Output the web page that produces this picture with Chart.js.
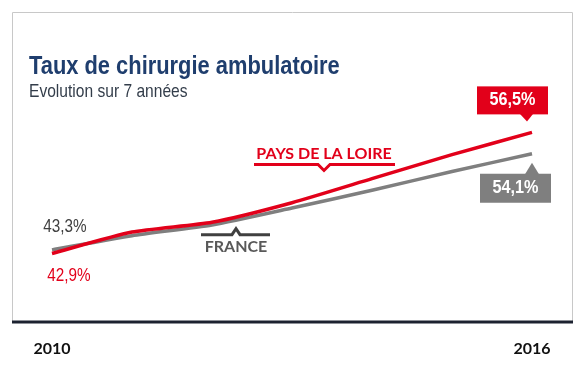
<!DOCTYPE html>
<html>
<head>
<meta charset="utf-8">
<script src="https://cdn.jsdelivr.net/npm/chart.js@4"></script>
<style>
  html, body { margin: 0; padding: 0; background: #fff; }
  #wrap { width: 587px; height: 366px; }
</style>
</head>
<body>
<div id="wrap"><canvas id="lines" width="587" height="366"></canvas></div>
<script>
// annees et taux (%)
const years = ['2010', '2011', '2012', '2013', '2014', '2015', '2016'];
const paysDeLaLoire = [42.9, 45.3, 46.4, 48.6, 51.3, 54.0, 56.5];
const france = [43.3, 44.9, 46.1, 48.0, 50.0, 52.1, 54.1];
const shownYears = ['2010', '2016'];

const RED = '#e2001a';
const GREY = '#7f7f7f';
const NARROW = '"Liberation Sans Narrow", "Liberation Sans", Arial, sans-serif';
const BOLDFONT = 'Lato, "Open Sans", sans-serif';

function fmt(v) {
    return v.toFixed(1).replace('.', ',') + '%';
}

// texte "condense" : pas de police etroite installee, on resserre a la main
function narrowText(ctx, text, x, y, sx) {
    ctx.save();
    ctx.translate(x, y);
    ctx.scale(sx, 1);
    ctx.fillText(text, 0, 0);
    ctx.restore();
}

// cadre, titres et etiquettes
const decor = {
    id: 'decor',
    beforeDraw(chart) {
        const ctx = chart.ctx;
        const area = chart.chartArea;
        ctx.save();
        ctx.strokeStyle = '#c8c8c8';
        ctx.lineWidth = 1;
        ctx.beginPath();
        ctx.moveTo(12.5, area.bottom);
        ctx.lineTo(12.5, 12.5);
        ctx.lineTo(572.5, 12.5);
        ctx.lineTo(572.5, area.bottom);
        ctx.stroke();

        ctx.textBaseline = 'alphabetic';
        ctx.fillStyle = '#1f3e6e';
        ctx.font = 'bold 25px ' + NARROW;
        narrowText(ctx, 'Taux de chirurgie ambulatoire', 29, 74, 0.875);
        ctx.fillStyle = '#333d4a';
        ctx.font = '19px ' + NARROW;
        narrowText(ctx, 'Evolution sur 7 ann\u00e9es', 29, 97, 0.82);
        ctx.restore();
    },
    afterDatasetsDraw(chart) {
        const ctx = chart.ctx;
        const area = chart.chartArea;
        const x = chart.scales.x;
        const y = chart.scales.y;
        const last = years.length - 1;
        ctx.save();

        // axe du bas
        ctx.strokeStyle = '#1c2230';
        ctx.lineWidth = 3;
        ctx.beginPath();
        ctx.moveTo(12, area.bottom);
        ctx.lineTo(573, area.bottom);
        ctx.stroke();

        ctx.textAlign = 'center';
        ctx.textBaseline = 'middle';

        // valeurs de depart
        const x0 = x.getPixelForValue(0);
        ctx.font = '18px ' + NARROW;
        ctx.fillStyle = '#404040';
        narrowText(ctx, fmt(france[0]), x0 + 13, y.getPixelForValue(france[0]) - 23, 0.85);
        ctx.fillStyle = RED;
        narrowText(ctx, fmt(paysDeLaLoire[0]), x0 + 17, y.getPixelForValue(paysDeLaLoire[0]) + 23, 0.85);

        // bulle rouge 2016
        const xe = x.getPixelForValue(last);
        let py = y.getPixelForValue(paysDeLaLoire[last]);
        ctx.fillStyle = RED;
        ctx.fillRect(xe - 55, py - 46, 71, 28);
        ctx.beginPath();
        ctx.moveTo(xe - 12, py - 18.5);
        ctx.lineTo(xe + 1, py - 18.5);
        ctx.lineTo(xe - 5, py - 11);
        ctx.closePath();
        ctx.fill();
        ctx.fillStyle = '#fff';
        ctx.font = 'bold 18px ' + NARROW;
        narrowText(ctx, fmt(paysDeLaLoire[last]), xe - 19.5, py - 32, 0.9);

        // bulle grise 2016
        py = y.getPixelForValue(france[last]);
        ctx.fillStyle = GREY;
        ctx.fillRect(xe - 52, py + 20, 71, 29);
        ctx.beginPath();
        ctx.moveTo(xe - 7, py + 20.5);
        ctx.lineTo(xe + 7, py + 20.5);
        ctx.lineTo(xe, py + 9);
        ctx.closePath();
        ctx.fill();
        ctx.fillStyle = '#fff';
        narrowText(ctx, fmt(france[last]), xe - 16.5, py + 34.5, 0.9);

        // PAYS DE LA LOIRE
        const step = x.getPixelForValue(1) - x.getPixelForValue(0);
        let cx = x.getPixelForValue(3) + 0.4 * step;
        let cy = y.getPixelForValue(52.0);
        ctx.strokeStyle = RED;
        ctx.lineWidth = 3;
        ctx.beginPath();
        ctx.moveTo(cx - 70, cy - 8);
        ctx.lineTo(cx - 6, cy - 8);
        ctx.lineTo(cx, cy - 2);
        ctx.lineTo(cx + 6, cy - 8);
        ctx.lineTo(cx + 71, cy - 8);
        ctx.stroke();
        ctx.fillStyle = RED;
        ctx.font = 'bold 16px ' + BOLDFONT;
        ctx.fillText('PAYS DE LA LOIRE', cx, cy - 19);

        // FRANCE
        cx = x.getPixelForValue(2) + 0.3 * step;
        cy = y.getPixelForValue(45.8);
        ctx.strokeStyle = '#404040';
        ctx.beginPath();
        ctx.moveTo(cx - 35, cy + 7);
        ctx.lineTo(cx - 4, cy + 7);
        ctx.lineTo(cx, cy + 1);
        ctx.lineTo(cx + 4, cy + 7);
        ctx.lineTo(cx + 34, cy + 7);
        ctx.stroke();
        ctx.fillStyle = '#595959';
        ctx.fillText('FRANCE', cx, cy + 19);

        ctx.restore();
    }
};

const ctx = document.getElementById('lines').getContext('2d');
const lines = new Chart(ctx, {
    type: 'line',
    data: {
        labels: years,
        datasets: [{
            label: 'Pays de la Loire',
            data: paysDeLaLoire,
            borderColor: RED,
            borderWidth: 3.5,
            pointRadius: 0,
            tension: 0.2
        },
        {
            label: 'France',
            data: france,
            borderColor: GREY,
            borderWidth: 3.5,
            pointRadius: 0,
            tension: 0.2
        }]
    },
    options: {
        responsive: false,
        animation: false,
        layout: {
            padding: { left: 52, right: 55, top: 30, bottom: 0 }
        },
        plugins: {
            legend: { display: false },
            tooltip: { enabled: false }
        },
        scales: {
            x: {
                offset: false,
                grid: { display: false, drawTicks: false },
                border: { display: false },
                afterFit: function(scale) { scale.height = 44; },
                ticks: {
                    autoSkip: false,
                    maxRotation: 0,
                    padding: 17,
                    color: '#111',
                    font: { family: BOLDFONT, size: 16, weight: 'bold' },
                    callback: function(value) {
                        const lab = this.getLabelForValue(value);
                        return shownYears.includes(lab) ? lab : '';
                    }
                }
            },
            y: {
                display: false,
                min: 35.2,
                max: 68
            }
        }
    },
    plugins: [decor]
});
</script>
</body>
</html>
